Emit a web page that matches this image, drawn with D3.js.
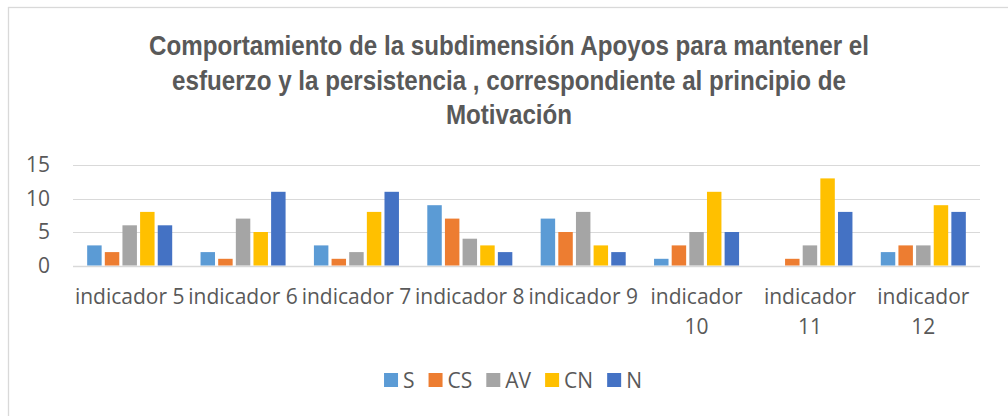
<!DOCTYPE html>
<html>
<head>
<meta charset="utf-8">
<script src="https://cdn.jsdelivr.net/npm/d3@7"></script>
<style>
  body { margin: 0; background: #fff; }
  svg { display: block; }
</style>
</head>
<body>
<div id="chart"></div>
<script>
'use strict';

// data
const categories = ['indicador 5', 'indicador 6', 'indicador 7', 'indicador 8',
                    'indicador 9', 'indicador 10', 'indicador 11', 'indicador 12'];
const seriesNames = ['S', 'CS', 'AV', 'CN', 'N'];
const S  = [3, 2, 3, 9, 7, 1, 0, 2];
const CS = [2, 1, 1, 7, 5, 3, 1, 3];
const AV = [6, 7, 2, 4, 8, 5, 3, 3];
const CN = [8, 5, 8, 3, 3, 11, 13, 9];
const N  = [6, 11, 11, 2, 2, 5, 8, 8];
const yTicks = [0, 5, 10, 15];
const titleLines = [
  'Comportamiento de la subdimensión Apoyos para mantener el',
  'esfuerzo y la persistencia , correspondiente al principio de',
  'Motivación'
];

const seriesValues = [S, CS, AV, CN, N];
const colors = ['#5B9BD5', '#ED7D31', '#A5A5A5', '#FFC000', '#4472C4'];

let width = 1008,
    height = 416;

let svg = d3.select('#chart')
  .append('svg')
    .attr('width', width)
    .attr('height', height);

// chart border (runs off the right and bottom edges)
svg.append('rect')
  .attr('x', 8.5).attr('y', 7.5)
  .attr('width', 1100).attr('height', 500)
  .attr('fill', 'none')
  .attr('stroke', '#d9d9d9')
  .attr('stroke-width', 1.3);

// title (narrowed a bit, the original face is condensed)
let titleX = 509;
svg.append('text')
  .attr('transform', 'translate(' + titleX + ',0) scale(0.895,1)')
  .attr('text-anchor', 'middle')
  .attr('font-family', '"Liberation Sans", Arial, sans-serif')
  .attr('font-weight', 'bold')
  .attr('font-size', 27)
  .attr('fill', '#595959')
  .selectAll('tspan')
  .data(titleLines)
  .enter().append('tspan')
    .attr('x', 0)
    .attr('y', (d, i) => 55.5 + i * 34.5)
    .text(d => d);

let x0 = d3.scaleBand()
  .domain(categories)
  .range([73, 980])
  .paddingInner(0.25)
  .paddingOuter(0.125);

let x1 = d3.scaleBand()
  .domain(seriesNames)
  .range([0, x0.bandwidth()])
  .paddingInner(0.18);

let y = d3.scaleLinear()
  .domain([0, 15])
  .range([265.5, 165]);

const labelFont = '"Open Sans", "Noto Sans", sans-serif';
const labelSize = 21;

// gridlines
svg.append('g')
  .selectAll('line')
  .data(yTicks)
  .enter().append('line')
    .attr('x1', 73).attr('x2', 980)
    .attr('y1', d => Math.round(y(d)) + 0.5)
    .attr('y2', d => Math.round(y(d)) + 0.5)
    .attr('stroke', '#d9d9d9')
    .attr('stroke-width', d => d === 0 ? 1.5 : 1.2);

// y tick labels
svg.append('g')
  .selectAll('text')
  .data(yTicks)
  .enter().append('text')
    .attr('x', 50)
    .attr('y', d => y(d))
    .attr('dy', '0.35em')
    .attr('text-anchor', 'end')
    .attr('font-family', labelFont)
    .attr('font-size', labelSize)
    .attr('fill', '#595959')
    .text(d => d);

// bars
let groups = svg.append('g')
  .selectAll('g')
  .data(categories)
  .enter().append('g')
    .attr('transform', d => 'translate(' + x0(d) + ',0)');

groups.selectAll('rect')
  .data((c, i) => seriesNames.map((s, j) => ({ series: s, value: seriesValues[j][i], color: colors[j] })))
  .enter().append('rect')
    .attr('x', d => x1(d.series))
    .attr('width', x1.bandwidth())
    .attr('y', d => y(d.value))
    .attr('height', d => y(0) - y(d.value))
    .attr('fill', d => d.color);

// category labels, wrapped when wider than the band
let catLabels = svg.append('g')
  .selectAll('text')
  .data(categories)
  .enter().append('text')
    .attr('text-anchor', 'middle')
    .attr('font-family', labelFont)
    .attr('font-size', labelSize)
    .attr('fill', '#595959')
    .text(d => d);

catLabels.each(function(d) {
  let t = d3.select(this);
  let cx = x0(d) + x0.bandwidth() / 2;
  if (this.getComputedTextLength() > x0.step()) {
    let words = d.split(' ');
    t.text(null);
    t.append('tspan').attr('x', cx).attr('y', 304).text(words[0]);
    t.append('tspan').attr('x', cx).attr('y', 334).text(words.slice(1).join(' '));
  } else {
    t.attr('x', cx).attr('y', 304);
  }
});

// legend
let legend = svg.append('g');
let items = legend.selectAll('g')
  .data(seriesNames)
  .enter().append('g');

items.append('rect')
  .attr('width', 14).attr('height', 14)
  .attr('y', 373)
  .attr('fill', (d, i) => colors[i]);

items.append('text')
  .attr('x', 19)
  .attr('y', 387.5)
  .attr('font-family', labelFont)
  .attr('font-size', labelSize)
  .attr('fill', '#595959')
  .text(d => d);

let offsets = [], pos = 0;
items.each(function(d) {
  offsets.push(pos);
  pos += 19 + d3.select(this).select('text').node().getComputedTextLength() + 14;
});
let totalW = pos - 14;
let startX = 513 - totalW / 2;
items.attr('transform', (d, i) => 'translate(' + (startX + offsets[i]) + ',0)');
</script>
</body>
</html>
